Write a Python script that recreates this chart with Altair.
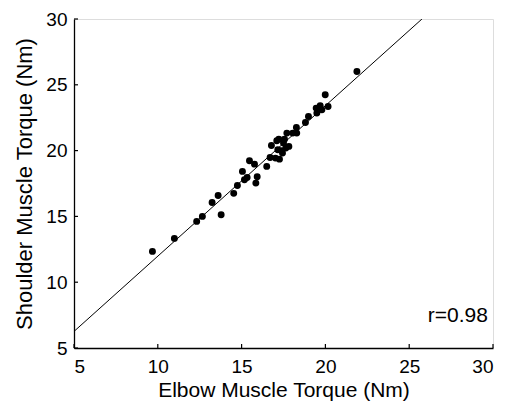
import altair as alt
import pandas as pd

elbow = [9.68, 10.99, 12.32, 12.66, 13.24, 13.60, 13.78, 14.53, 14.75, 15.05,
         15.17, 15.33, 15.47, 15.77, 15.85, 15.93, 16.50, 16.70, 16.78, 17.02,
         17.10, 17.16, 17.22, 17.26, 17.40, 17.50, 17.56, 17.44, 17.64, 17.70,
         17.82, 18.05, 18.27, 18.29, 18.81, 18.99, 19.45, 19.49, 19.69, 19.79,
         19.99, 20.16, 21.88]
shoulder = [12.34, 13.33, 14.62, 15.00, 16.06, 16.59, 15.13, 16.75, 17.35, 18.42,
            17.78, 17.96, 19.23, 18.97, 17.53, 18.01, 18.80, 19.48, 20.39, 19.43,
            20.75, 20.06, 20.87, 19.35, 19.99, 20.57, 20.87, 19.81, 20.19, 21.33,
            20.32, 21.33, 21.76, 21.33, 22.14, 22.59, 23.23, 22.85, 23.41, 23.10,
            24.24, 23.35, 26.01]

fit_x = [5.0, 25.76]
fit_y = [6.26, 30.0]

ticks = [5, 10, 15, 20, 25, 30]
label_x = [29.7]
label_y = [7.4]
label_text = ["r=0.98"]

W, H = 419, 329
FONT = "Liberation Sans"

pts = pd.DataFrame({"x": elbow, "y": shoulder})
fit = pd.DataFrame({"x": fit_x, "y": fit_y})
tk = pd.DataFrame({"t": ticks})
lab = pd.DataFrame({"x": label_x, "y": label_y, "text": label_text})

xs = alt.Scale(domain=[5, 30], nice=False, zero=False)
ys = alt.Scale(domain=[5, 30], nice=False, zero=False)

xaxis = alt.Axis(values=ticks, ticks=False, tickSize=0, grid=False, domainColor="black",
                 domainWidth=1.3, labelFont=FONT, labelFontSize=19, labelColor="black",
                 labelPadding=9, title="Elbow Muscle Torque (Nm)", titleFont=FONT,
                 titleFontSize=21, titleFontWeight="normal", titleColor="black", titlePadding=3)
yaxis = alt.Axis(values=ticks, ticks=False, tickSize=0, grid=False, domainColor="black",
                 domainWidth=1.3, labelFont=FONT, labelFontSize=19, labelColor="black",
                 labelPadding=7, title="Shoulder Muscle Torque (Nm)", titleFont=FONT,
                 titleFontSize=22, titleFontWeight="normal", titleColor="black", titlePadding=9)

points = alt.Chart(pts).mark_circle(size=48, color="black", opacity=1).encode(
    x=alt.X("x:Q", scale=xs, axis=xaxis),
    y=alt.Y("y:Q", scale=ys, axis=yaxis),
)

line = alt.Chart(fit).mark_line(color="black", strokeWidth=1, clip=True).encode(
    x=alt.X("x:Q", scale=xs), y=alt.Y("y:Q", scale=ys)
)

xt = alt.Chart(tk).mark_rule(color="black", strokeWidth=1.2).encode(
    x=alt.X("t:Q", scale=xs), y=alt.value(H), y2=alt.value(H - 4)
)
yt = alt.Chart(tk).mark_rule(color="black", strokeWidth=1.2).encode(
    y=alt.Y("t:Q", scale=ys), x=alt.value(0), x2=alt.value(4)
)

txt = alt.Chart(lab).mark_text(align="right", baseline="middle", font=FONT,
                               fontSize=21, color="black").encode(
    x=alt.X("x:Q", scale=xs), y=alt.Y("y:Q", scale=ys), text="text:N"
)

chart = alt.layer(line, points, xt, yt, txt).properties(
    width=W, height=H,
    autosize=alt.AutoSizeParams(type="none"),
    padding={"left": 66, "top": 11, "right": 7, "bottom": 56},
).configure_view(stroke=None).configure(background="white")

chart.save("out.html", embed_options={"renderer": "svg", "actions": False})
